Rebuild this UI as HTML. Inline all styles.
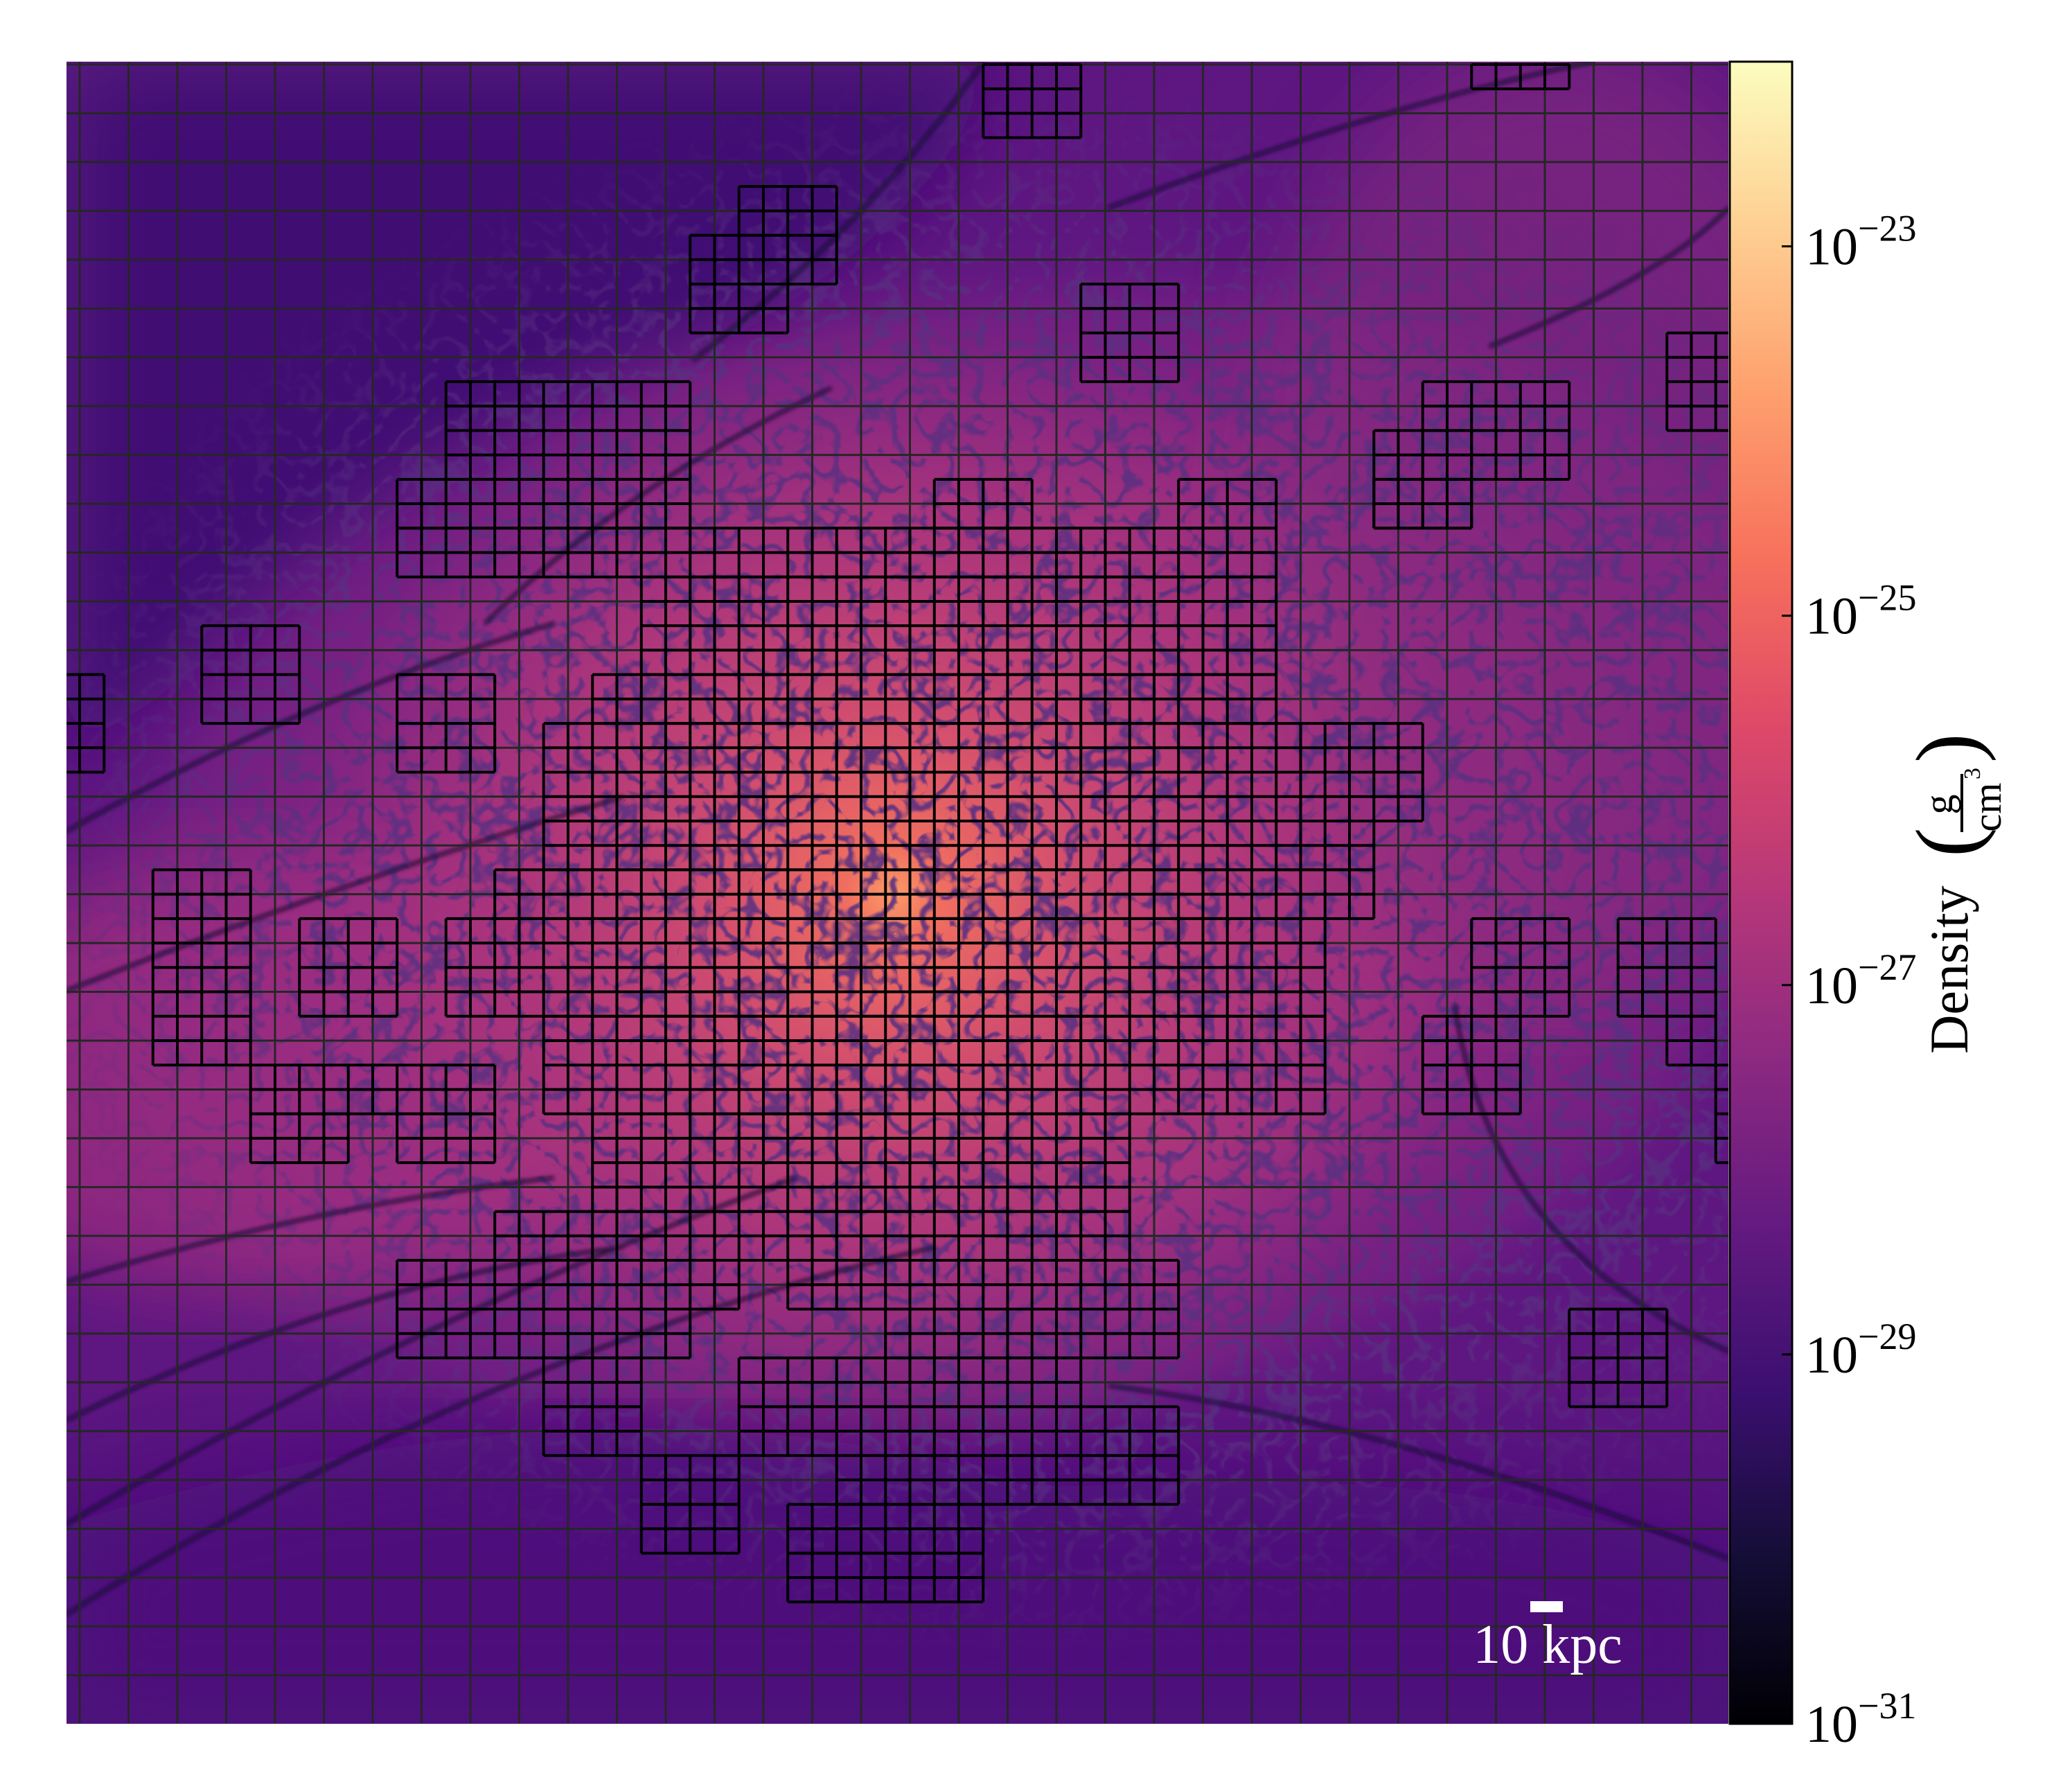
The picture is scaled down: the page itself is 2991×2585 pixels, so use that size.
<!DOCTYPE html>
<html><head><meta charset="utf-8">
<style>
html,body{margin:0;padding:0;background:#fff;}
svg{display:block;}
text{font-family:"Liberation Serif","DejaVu Serif",serif;}
</style></head>
<body>
<svg id="fig" width="2991" height="2585" viewBox="0 0 2991 2585" xmlns="http://www.w3.org/2000/svg">
<defs>
  <clipPath id="plotClip"><rect x="96" y="89" width="2399" height="2399"/></clipPath>
  <linearGradient id="magma" x1="0" y1="1" x2="0" y2="0">
    <stop offset="0" stop-color="#000004"/><stop offset="0.1" stop-color="#140e36"/>
    <stop offset="0.2" stop-color="#3b0f70"/><stop offset="0.3" stop-color="#641a80"/>
    <stop offset="0.4" stop-color="#8c2981"/><stop offset="0.5" stop-color="#b73779"/>
    <stop offset="0.6" stop-color="#de4968"/><stop offset="0.7" stop-color="#f7705c"/>
    <stop offset="0.8" stop-color="#fe9f6d"/><stop offset="0.9" stop-color="#fecf92"/>
    <stop offset="1" stop-color="#fcfdbf"/>
  </linearGradient>
  <radialGradient id="halo" cx="0.5" cy="0.5" r="0.5">
    <stop offset="0" stop-color="#b3357b"/><stop offset="0.55" stop-color="#982b80"/>
    <stop offset="0.85" stop-color="#772184" stop-opacity="0.75"/><stop offset="1" stop-color="#5a1680" stop-opacity="0"/>
  </radialGradient>
  <radialGradient id="core" cx="0.5" cy="0.5" r="0.5">
    <stop offset="0" stop-color="#fb9a68"/><stop offset="0.08" stop-color="#f06e5f"/>
    <stop offset="0.3" stop-color="#d24e6e"/><stop offset="0.6" stop-color="#b53a78" stop-opacity="0.7"/>
    <stop offset="1" stop-color="#9a2f7e" stop-opacity="0"/>
  </radialGradient>
  <linearGradient id="bottomDark" x1="0" y1="0" x2="0" y2="1">
    <stop offset="0" stop-color="#4b117a" stop-opacity="0"/><stop offset="0.5" stop-color="#4b117a" stop-opacity="0.85"/>
    <stop offset="1" stop-color="#4d117b" stop-opacity="1"/>
  </linearGradient>
  <radialGradient id="veinMaskGrad" cx="0.5" cy="0.5" r="0.5">
    <stop offset="0" stop-color="#fff" stop-opacity="1"/><stop offset="0.7" stop-color="#fff" stop-opacity="0.9"/>
    <stop offset="1" stop-color="#fff" stop-opacity="0"/>
  </radialGradient>
  <mask id="veinMask"><ellipse cx="1500" cy="1250" rx="1500" ry="1150" fill="url(#veinMaskGrad)"/></mask>
  <filter id="veins" x="0" y="0" width="1" height="1">
    <feTurbulence type="turbulence" baseFrequency="0.024" numOctaves="2" seed="7" result="t"/>
    <feColorMatrix in="t" type="matrix" values="0 0 0 0 0.1  0 0 0 0 0.03  0 0 0 0 0.22  -7 0 0 0 1.5"/>
  </filter>
  <filter id="soft"><feGaussianBlur stdDeviation="60"/></filter>
  <filter id="soft2"><feGaussianBlur stdDeviation="3"/></filter>
</defs>

<g clip-path="url(#plotClip)">
  <rect x="96" y="89" width="2399" height="2399" fill="#5e1681"/>
  <path d="M96 89 L1450 89 Q1300 400 900 560 Q500 760 96 1120 Z" fill="#410f73" filter="url(#soft)"/>
  <ellipse cx="1400" cy="1250" rx="1400" ry="920" transform="rotate(-12 1400 1250)" fill="url(#halo)"/>
  <ellipse cx="2250" cy="750" rx="450" ry="700" fill="#86297f" opacity="0.6" filter="url(#soft)"/>
  <ellipse cx="400" cy="1550" rx="550" ry="320" fill="#a83280" opacity="0.65" filter="url(#soft)"/>
  <rect x="96" y="2000" width="2399" height="488" fill="url(#bottomDark)"/>
  <path d="M96 2488 L96 2200 Q900 1950 1500 2150 Q2100 2100 2495 2250 L2495 2488 Z" fill="#4d117b" opacity="0.8" filter="url(#soft)"/>
  <circle cx="1289" cy="1290" r="850" fill="url(#core)"/>
  <rect x="96" y="89" width="2399" height="2399" filter="url(#veins)" mask="url(#veinMask)" opacity="0.9"/>
  <g fill="none" stroke="#170833" stroke-width="5" opacity="0.9" filter="url(#soft2)">
    <path d="M96 2330 Q700 1950 1350 1800"/>
    <path d="M96 2200 Q600 1900 1150 1700"/>
    <path d="M96 1850 Q450 1740 800 1700"/>
    <path d="M96 1430 Q500 1270 900 1150"/>
    <path d="M96 1200 Q450 1000 800 900"/>
    <path d="M1000 520 Q1250 330 1420 89"/>
    <path d="M1600 300 Q2000 150 2300 89"/>
    <path d="M2495 1950 Q2150 1800 2100 1450"/>
    <path d="M2495 2250 Q2000 2050 1600 2000"/>
    <path d="M2150 500 Q2400 400 2495 300"/>
    <path d="M96 2050 Q500 1850 900 1800"/>
    <path d="M700 900 Q900 700 1200 560"/>
  </g>
  <g id="coarseGrid" stroke="#262626" stroke-width="3"></g>
  <g id="fineGrid" stroke="#000" stroke-width="4" fill="none"></g>
  <rect x="2209" y="2311" width="47" height="16" fill="#fff"/>
  <text x="2234" y="2400" font-size="80" fill="#fff" text-anchor="middle">10 kpc</text>
</g>

<g>
  <rect x="2497" y="89" width="90" height="2399" fill="url(#magma)" stroke="#000" stroke-width="3"/>
  <g id="cbTicks"></g>
  <g transform="translate(2840 1289) rotate(-90)">
    <text x="-232" y="0" font-size="78" text-anchor="start">Density</text>
    <text x="52" y="14" font-size="128" text-anchor="start">(</text>
    <text x="128" y="-22" font-size="58" text-anchor="middle">g</text>
    <line x1="88" y1="-8" x2="172" y2="-8" stroke="#000" stroke-width="4"/>
    <text x="124" y="48" font-size="58" text-anchor="middle">cm</text>
    <text x="164" y="18" font-size="34" text-anchor="start">3</text>
    <text x="188" y="14" font-size="128" text-anchor="start">)</text>
  </g>
</g>

<script>
// ---- data ----
const cbExponents = [-23, -25, -27, -29, -31];
const cbMinExp = -31;
const cbMaxExp = -22;
// refined patches in fine-cell indices: [i0, i1, j0, j1]
const patchI0 = [37,57,27,25,25,41,65,55,53,15,13,35,45,53,13,23,21,19,19,17,15,57,63,19,55,65,67,21,17,13,29,13,33,19,27,19,27,23,31,23,29,29,61,5,-1,13,3,9,7,7,13];
const patchI1 = [41,61,31,31,29,45,69,61,57,25,25,39,49,57,49,49,49,55,53,53,51,61,67,51,59,67,69,43,43,27,45,25,45,23,41,23,45,27,45,27,37,37,65,9,1,17,7,13,17,11,17];
const patchJ0 = [0,0,5,7,9,9,11,13,15,13,17,17,17,17,19,21,25,27,31,33,35,35,35,39,39,39,41,43,47,49,49,51,51,53,53,55,55,57,57,59,59,61,51,23,25,25,33,35,41,43,43];
const patchJ1 = [3,1,7,9,11,13,15,17,19,17,19,19,19,19,21,25,27,31,33,35,39,39,39,43,43,41,45,47,49,51,51,53,53,55,55,57,57,59,59,61,61,63,55,27,29,29,41,39,43,45,45];

// ---- axes ----
const PX0 = 96, PY0 = 89, PSIZE = 2399;
const gridX0 = 115, gridY0 = 93, coarseX = 70.5, coarseY = 70.45;
function fx(i){ return gridX0 + i * coarseX / 2; }
function fy(j){ return gridY0 + j * coarseY / 2; }
function cbY(e){ return PY0 + PSIZE * (cbMaxExp - e) / (cbMaxExp - cbMinExp); }
const NS = 'http://www.w3.org/2000/svg';
function mk(tag, attrs, parent){ const el = document.createElementNS(NS, tag); for (const k in attrs) el.setAttribute(k, attrs[k]); parent.appendChild(el); return el; }

// coarse grid
const cg = document.getElementById('coarseGrid');
for (let k = -1; k <= 34; k++) {
  const x = gridX0 + k * coarseX;
  if (x > PX0 && x < PX0 + PSIZE) {
    const l = mk('line', {x1: x, y1: PY0, x2: x, y2: PY0 + PSIZE}, cg);
    
    
  }
  const y = gridY0 + k * coarseY;
  if (y >= PY0 && y <= PY0 + PSIZE) {
    const l = mk('line', {x1: PX0, y1: y, x2: PX0 + PSIZE, y2: y}, cg);
    
    
  }
}

// refined patches
const fg = document.getElementById('fineGrid');
for (let p = 0; p < patchI0.length; p++) {
  const g = mk('g', {}, fg);
  
  
  const xa = fx(patchI0[p]), xb = fx(patchI1[p]), ya = fy(patchJ0[p]), yb = fy(patchJ1[p]);
  for (let i = patchI0[p]; i <= patchI1[p]; i++) mk('line', {x1: fx(i), y1: ya, x2: fx(i), y2: yb}, g);
  for (let j = patchJ0[p]; j <= patchJ1[p]; j++) mk('line', {x1: xa, y1: fy(j), x2: xb, y2: fy(j)}, g);
}

// colorbar ticks
const tg = document.getElementById('cbTicks');
cbExponents.forEach(e => {
  const y = cbY(e);
  const t = mk('line', {x1: 2572, y1: y, x2: 2587, y2: y, stroke: '#000', 'stroke-width': 3}, tg);
  
  
  const lab = mk('text', {x: 2606, y: y + 26, 'font-size': 76}, tg);
  
  
  lab.appendChild(document.createTextNode('10'));
  const sup = mk('tspan', {dy: -34, 'font-size': 54}, lab);
  sup.textContent = '\u2212' + Math.abs(e);
});
</script>
</body></html>
